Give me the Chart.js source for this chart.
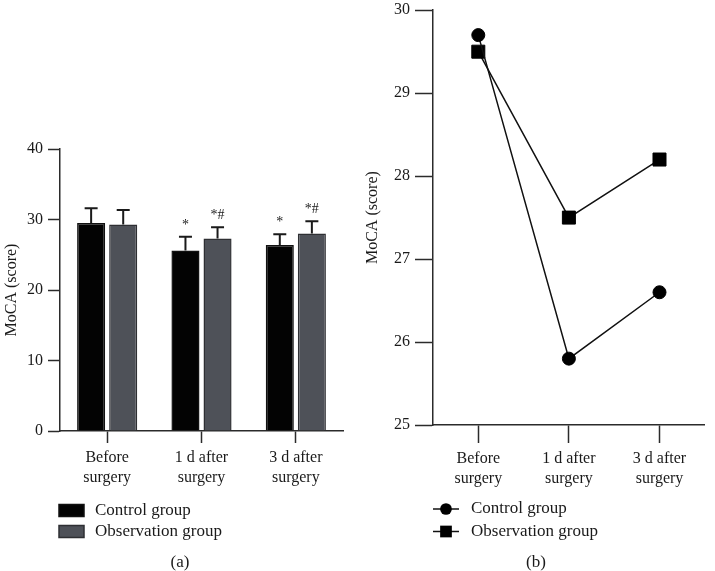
<!DOCTYPE html>
<html lang="en">
<head>
<meta charset="UTF-8">
<title>MoCA score</title>
<script src="https://cdn.jsdelivr.net/npm/chart.js"></script>
<style>
    body { margin: 0; background: #fff; }
    .panel { position: absolute; top: 0; height: 571px; }
    #panelA { left: 0; width: 357px; }
    #panelB { left: 357px; width: 358px; }
</style>
</head>
<body>
<div class="panel" id="panelA"><canvas id="barChart"></canvas></div>
<div class="panel" id="panelB"><canvas id="lineChart"></canvas></div>
<script>
    // values
    var categories = [['Before', 'surgery'], ['1 d after', 'surgery'], ['3 d after', 'surgery']];
    var seriesNames = ['Control group', 'Observation group'];

    // (a) mean and SD
    var controlMean = [29.5, 25.6, 26.4];
    var controlSD = [2.1, 1.95, 1.5];
    var observationMean = [29.3, 27.3, 28.0];
    var observationSD = [2.05, 1.6, 1.75];
    var controlMarks = ['', '*', '*'];
    var observationMarks = ['', '*#', '*#'];
    var barTicks = [0, 10, 20, 30, 40];

    // (b) trend
    var controlTrend = [29.7, 25.8, 26.6];
    var observationTrend = [29.5, 27.5, 28.2];
    var lineTicks = [25, 26, 27, 28, 29, 30];

    var SERIF = '"Liberation Serif", "DejaVu Serif", serif';
    var AXIS = '#2b2b2b';
    var TEXT = '#1a1a1a';

    // error bars, significance marks, legend and caption
    var panelExtras = {
        id: 'panelExtras',
        afterDatasetsDraw: function(chart) {
            var ctx = chart.ctx;
            var yScale = chart.scales.y;
            ctx.save();
            chart.data.datasets.forEach(function(ds, i) {
                if (!ds.errorBars) return;
                var meta = chart.getDatasetMeta(i);
                meta.data.forEach(function(bar, j) {
                    var top = yScale.getPixelForValue(ds.data[j] + ds.errorBars[j]);
                    ctx.strokeStyle = '#1a1a1a';
                    ctx.lineWidth = 2;
                    ctx.beginPath();
                    ctx.moveTo(bar.x, bar.y);
                    ctx.lineTo(bar.x, top);
                    ctx.moveTo(bar.x - 6.5, top);
                    ctx.lineTo(bar.x + 6.5, top);
                    ctx.stroke();
                    if (ds.marks && ds.marks[j]) {
                        ctx.fillStyle = TEXT;
                        ctx.font = '14px ' + SERIF;
                        ctx.textAlign = 'center';
                        ctx.textBaseline = 'alphabetic';
                        ctx.fillText(ds.marks[j], bar.x, top - 8);
                    }
                });
            });
            ctx.restore();
        },
        afterDraw: function(chart, args, opts) {
            var ctx = chart.ctx;
            ctx.save();
            ctx.font = '17px ' + SERIF;
            ctx.textBaseline = 'middle';
            ctx.textAlign = 'left';
            chart.data.datasets.forEach(function(ds, i) {
                var y = opts.legendY + i * opts.rowGap;
                if (opts.kind === 'box') {
                    ctx.fillStyle = ds.backgroundColor;
                    ctx.fillRect(opts.legendX, y - 6, 25, 12);
                    ctx.strokeStyle = ds.borderColor;
                    ctx.lineWidth = 1.5;
                    ctx.strokeRect(opts.legendX, y - 6, 25, 12);
                } else {
                    ctx.strokeStyle = ds.borderColor;
                    ctx.lineWidth = 1.5;
                    ctx.beginPath();
                    ctx.moveTo(opts.legendX, y);
                    ctx.lineTo(opts.legendX + 26, y);
                    ctx.stroke();
                    ctx.fillStyle = ds.pointBackgroundColor;
                    Chart.helpers.drawPoint(ctx, {
                        pointStyle: ds.pointStyle,
                        radius: ds.pointRadius * 0.9,
                        borderWidth: 0
                    }, opts.legendX + 13, y);
                }
                ctx.fillStyle = TEXT;
                ctx.fillText(ds.label, opts.textX, y);
            });
            ctx.textAlign = 'center';
            ctx.fillText(opts.caption, opts.captionX, opts.captionY);
            ctx.restore();
        }
    };

    function axisFont() {
        return { family: SERIF, size: 16, lineHeight: 1.3 };
    }

    function fixScale(width, height) {
        return function(scale) {
            if (width) scale.width = width;
            if (height) scale.height = height;
            scale.paddingTop = 0;
            scale.paddingBottom = 0;
            scale.paddingLeft = 0;
            scale.paddingRight = 0;
        };
    }

    new Chart(document.getElementById('barChart'), {
        type: 'bar',
        data: {
            labels: categories,
            datasets: [{
                label: seriesNames[0],
                data: controlMean,
                errorBars: controlSD,
                marks: controlMarks,
                backgroundColor: '#030303',
                borderColor: '#111',
                borderWidth: 1.5
            }, {
                label: seriesNames[1],
                data: observationMean,
                errorBars: observationSD,
                marks: observationMarks,
                backgroundColor: '#4e5158',
                borderColor: '#2e2f33',
                borderWidth: 1.5
            }]
        },
        options: {
            responsive: true,
            maintainAspectRatio: false,
            animation: false,
            layout: { padding: { left: 0, top: 149, right: 14, bottom: 45 } },
            datasets: { bar: { categoryPercentage: 0.68, barPercentage: 0.875 } },
            scales: {
                x: {
                    offset: true,
                    grid: { offset: false, drawOnChartArea: false, tickLength: 12, tickColor: AXIS, tickWidth: 1.5 },
                    border: { color: AXIS, width: 1.5 },
                    ticks: { color: TEXT, font: axisFont(), padding: 4, maxRotation: 0 },
                    afterFit: fixScale(0, 95)
                },
                y: {
                    min: 0,
                    max: 40,
                    afterBuildTicks: function(scale) {
                        scale.ticks = barTicks.map(function(v) { return { value: v }; });
                    },
                    grid: { drawOnChartArea: false, tickLength: 12, tickColor: AXIS, tickWidth: 1.5 },
                    border: { color: AXIS, width: 1.5 },
                    ticks: { color: TEXT, font: axisFont(), padding: 5 },
                    title: { display: true, text: 'MoCA (score)', color: TEXT, font: { family: SERIF, size: 16 }, padding: { top: 2, bottom: 0 } },
                    afterFit: fixScale(60, 0)
                }
            },
            plugins: {
                legend: { display: false },
                tooltip: { enabled: false },
                panelExtras: { kind: 'box', legendX: 59, textX: 95, legendY: 510.5, rowGap: 21, caption: '(a)', captionX: 180, captionY: 563 }
            }
        },
        plugins: [panelExtras]
    });

    new Chart(document.getElementById('lineChart'), {
        type: 'line',
        data: {
            labels: categories,
            datasets: [{
                label: seriesNames[0],
                data: controlTrend,
                borderColor: '#111',
                borderWidth: 1.5,
                pointStyle: 'circle',
                pointRadius: 6.5,
                pointBackgroundColor: '#000',
                pointBorderColor: '#000',
                pointBorderWidth: 1
            }, {
                label: seriesNames[1],
                data: observationTrend,
                borderColor: '#111',
                borderWidth: 1.5,
                pointStyle: 'rect',
                pointRadius: 9.2,
                pointBackgroundColor: '#000',
                pointBorderColor: '#000',
                pointBorderWidth: 1
            }]
        },
        options: {
            responsive: true,
            maintainAspectRatio: false,
            animation: false,
            layout: { padding: { left: 0, top: 6, right: 2, bottom: 51 } },
            scales: {
                x: {
                    offset: true,
                    grid: { offset: false, drawOnChartArea: false, tickLength: 18, tickColor: AXIS, tickWidth: 1.5 },
                    border: { color: AXIS, width: 1.5 },
                    ticks: { color: TEXT, font: axisFont(), padding: 5, maxRotation: 0 },
                    afterFit: fixScale(0, 95)
                },
                y: {
                    min: 25,
                    max: 30,
                    afterBuildTicks: function(scale) {
                        scale.ticks = lineTicks.map(function(v) { return { value: v }; });
                    },
                    grid: { drawOnChartArea: false, tickLength: 18, tickColor: AXIS, tickWidth: 1.5 },
                    border: { color: AXIS, width: 1.5 },
                    ticks: { color: TEXT, font: axisFont(), padding: 5 },
                    title: { display: true, text: 'MoCA (score)', color: TEXT, font: { family: SERIF, size: 16 }, padding: { top: 6, bottom: 0 } },
                    afterFit: fixScale(76, 0)
                }
            },
            plugins: {
                legend: { display: false },
                tooltip: { enabled: false },
                panelExtras: { kind: 'line', legendX: 76, textX: 114, legendY: 509, rowGap: 22.5, caption: '(b)', captionX: 179, captionY: 563 }
            }
        },
        plugins: [panelExtras]
    });
</script>
</body>
</html>
